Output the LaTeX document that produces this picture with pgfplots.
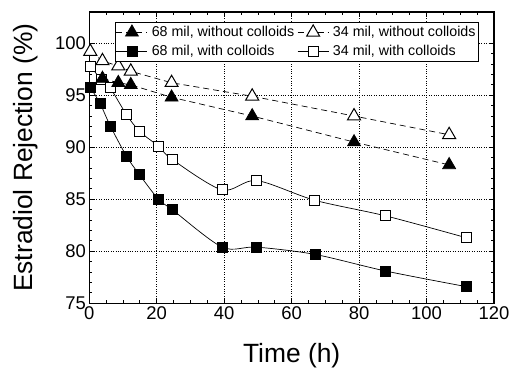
\documentclass[border=0pt]{standalone}
\usepackage{pgfplots}
\pgfplotsset{compat=1.18}
\usepackage{fontspec}
\setmainfont{Liberation Sans}
\begin{document}
\begin{tikzpicture}
\path (-89.3bp,-66.7bp) rectangle (423.7bp,303.3bp);
\begin{axis}[
  scale only axis,
  width=404.7bp, height=291.3bp,
  xmin=0, xmax=120, ymin=75, ymax=103,
  xtick={0,20,...,120}, ytick={75,80,...,100},
  minor x tick num=3, minor y tick num=4,
  tick align=inside, tickpos=both,
  major tick length=5bp, minor tick length=3bp,
  every tick/.style={black, line width=0.8pt},
  axis line style={line width=1.3pt},
  grid=major,
  major grid style={black, dotted, line width=0.6pt},
  /pgf/number format/assume math mode=true,
  ticklabel style={font=\fontsize{18.5}{20}\selectfont},
  xlabel={Time (h)},
  ylabel={Estradiol Rejection (\%)},
  label style={font=\fontsize{26.5}{28}\selectfont},
  xlabel style={at={(axis description cs:0.5,-0.181)}, anchor=center},
  ylabel style={at={(axis description cs:-0.158,0.5)}, anchor=center},
  legend columns=2,
  legend style={at={(axis description cs:0.063,0.965)}, anchor=north west,
    font=\fontsize{14.3}{17}\selectfont, draw=black, line width=0.6pt,
    inner xsep=1bp, inner ysep=2bp, row sep=3bp,
    /tikz/every even column/.append style={column sep=1bp},
    /tikz/every odd column/.append style={column sep=2bp},
    cells={anchor=west}},
  legend image code/.code={
    \draw[mark repeat=2,mark phase=2] plot coordinates {(0bp,0bp) (15.5bp,0bp) (31bp,0bp)};
  },
  dashstyle/.style={dash pattern=on 6bp off 4bp},
]
\addlegendimage{black, dashstyle, line width=0.7pt, mark=triangle*, mark size=7.5bp, mark options={solid, fill=black}}
\addlegendentry{68 mil, without colloids}
\addlegendimage{black, dashstyle, line width=0.7pt, mark=triangle*, mark size=7.5bp, mark options={solid, fill=white, line width=1pt}}
\addlegendentry{34 mil, without colloids}
\addlegendimage{black, solid, line width=0.7pt, mark=square*, mark size=5bp, mark options={solid, fill=black}}
\addlegendentry{68 mil, with colloids}
\addlegendimage{black, solid, line width=0.7pt, mark=square*, mark size=5bp, mark options={solid, fill=white, line width=1pt}}
\addlegendentry{34 mil, with colloids}

% 34 mil, with colloids (open squares)
\addplot[forget plot, black, smooth, line width=0.7pt, mark=square*, mark size=5bp, mark options={solid, fill=white, line width=1pt}] coordinates {
 (0.5,97.75) (3.5,96.5) (6.2,95.7) (11.1,93.1) (15,91.5) (20.5,90.1) (24.7,88.8)
 (39.4,85.9) (49.6,86.8) (66.9,84.9) (87.9,83.4) (111.8,81.3)};
% 68 mil, with colloids (filled squares)
\addplot[forget plot, black, smooth, line width=0.7pt, mark=square*, mark size=5bp, mark options={solid, fill=black}] coordinates {
 (0.2,95.8) (3.2,94.2) (6.3,92.0) (11.1,89.1) (14.8,87.4) (20.5,85.0) (24.6,84.0)
 (39.4,80.4) (49.6,80.4) (66.9,79.7) (87.9,78.1) (111.8,76.6)};
% 34 mil, without colloids (open triangles)
\addplot[forget plot, black, dashstyle, line width=0.7pt, mark=triangle*, mark size=7.5bp, mark options={solid, fill=white, line width=1pt}] coordinates {
 (0.3,99.2) (3.9,98.3) (8.6,97.8) (12.3,97.3) (24.4,96.2) (48.3,94.9) (78.5,93.0) (106.7,91.2)};
% 68 mil, without colloids (filled triangles)
\addplot[forget plot, black, dashstyle, line width=0.7pt, mark=triangle*, mark size=7.5bp, mark options={solid, fill=black}] coordinates {
 (3.9,96.6) (8.6,96.2) (12.3,96.0) (24.4,94.8) (48.3,93.0) (78.5,90.5) (106.7,88.3)};
\end{axis}
\end{tikzpicture}
\end{document}
